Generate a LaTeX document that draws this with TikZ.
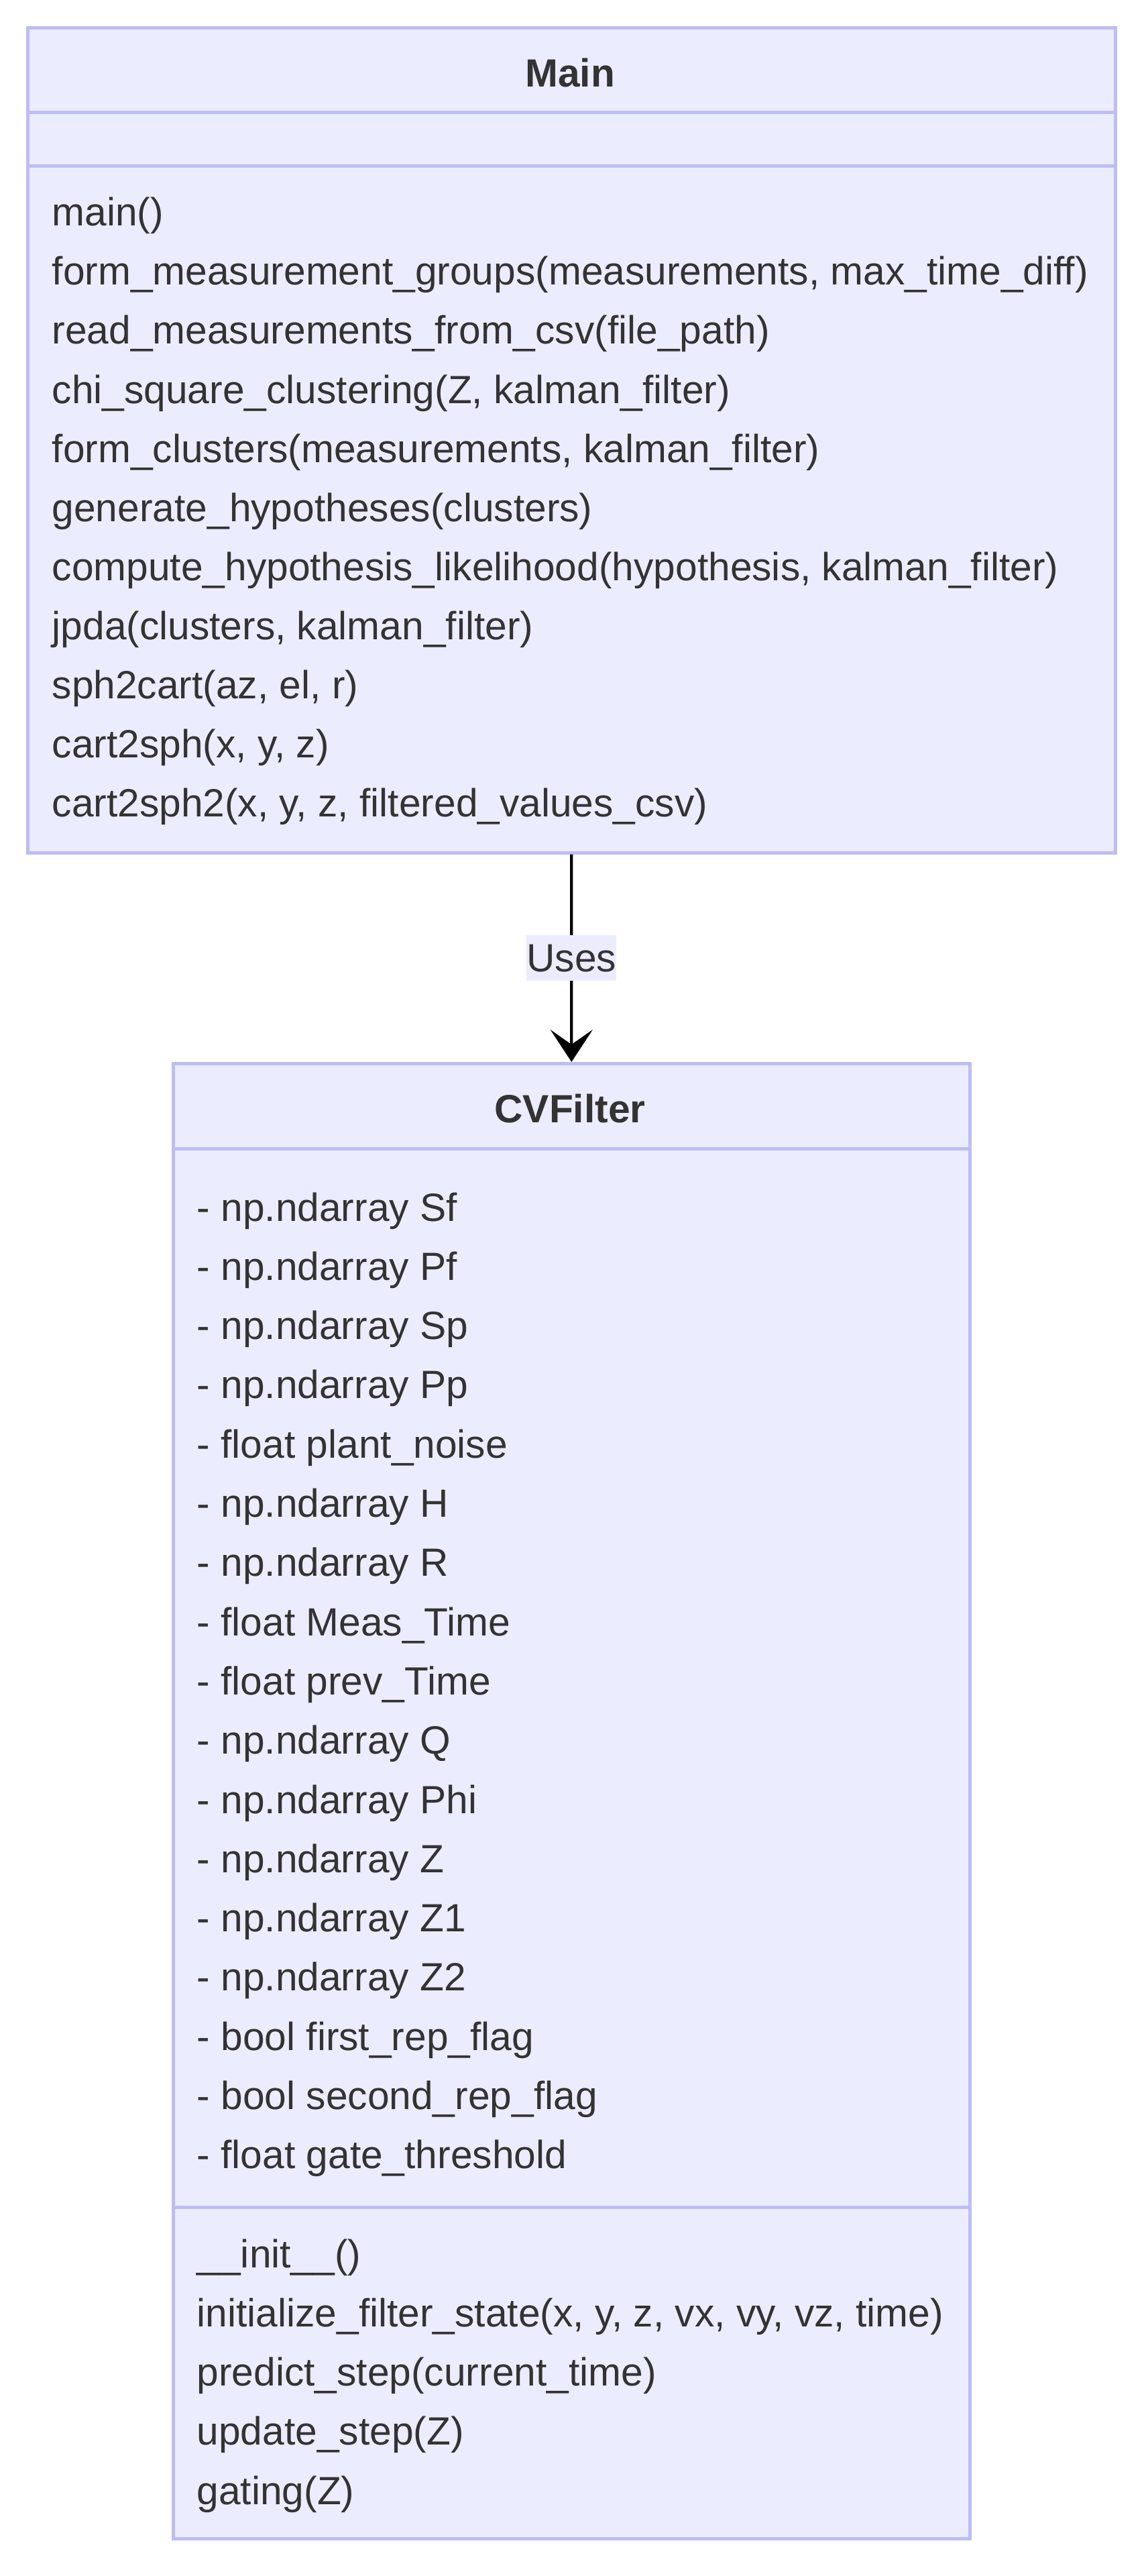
\documentclass[tikz,border=0pt]{standalone}
\usepackage{fontspec}
\setmainfont{Liberation Sans}
\usetikzlibrary{arrows.meta}
\definecolor{boxfill}{HTML}{ECECFF}
\definecolor{boxline}{HTML}{BDBDF6}
\definecolor{txt}{HTML}{333333}
\newcommand{\umlfont}{\fontsize{16.7pt}{20pt}\selectfont}
\tikzset{
  cbox/.style={draw=boxline, fill=boxfill, line width=1.3pt, rectangle, inner sep=0pt, anchor=north west},
  member/.style={anchor=base west, inner sep=0pt, text=txt},
  ctitle/.style={anchor=base, inner sep=0pt, text=txt, font=\umlfont\bfseries},
  uses/.style={line width=1.2pt, -{Stealth[length=4.8mm, width=6.3mm, inset=2.2mm]}},
  lbl/.style={fill=boxfill, text=txt, inner xsep=0pt, inner ysep=0pt, minimum height=0.68cm}
}
\begin{document}
\begin{tikzpicture}[font=\umlfont]
        \useasboundingbox (0,0) rectangle (17.08,-38.40);

        % Clase Main
        \node[cbox, minimum width=16.22cm, minimum height=1.26cm] (main) at (0.39,-0.39) {};
        \node[cbox, minimum width=16.22cm, minimum height=0.80cm] (mainattr) at (0.39,-1.65) {};
        \node[cbox, minimum width=16.22cm, minimum height=10.24cm] (mainops) at (0.39,-2.45) {};
        \node[ctitle] (maintitle) at (8.50,-1.30) {Main};
        \foreach \t [count=\i from 0] in {main(),
            {form\_measurement\_groups(measurements, max\_time\_diff)},
            read\_measurements\_from\_csv(file\_path),
            {chi\_square\_clustering(Z, kalman\_filter)},
            {form\_clusters(measurements, kalman\_filter)},
            generate\_hypotheses(clusters),
            {compute\_hypothesis\_likelihood(hypothesis, kalman\_filter)},
            {jpda(clusters, kalman\_filter)},
            {sph2cart(az, el, r)},
            {cart2sph(x, y, z)},
            {cart2sph2(x, y, z, filtered\_values\_csv)}}
            \node[member] (mop\i) at (0.77,-3.37-0.88*\i) {\t};

        % Clase CVFilter
        \node[cbox, minimum width=11.88cm, minimum height=1.27cm] (cvf) at (2.56,-15.83) {};
        \node[cbox, minimum width=11.88cm, minimum height=15.78cm] (cvfattr) at (2.56,-17.10) {};
        \node[cbox, minimum width=11.88cm, minimum height=4.94cm] (cvfops) at (2.56,-32.88) {};
        \node[ctitle] (cvftitle) at (8.50,-16.73) {CVFilter};
        \foreach \t [count=\i from 0] in {- np.ndarray Sf, - np.ndarray Pf,
            - np.ndarray Sp, - np.ndarray Pp, - float plant\_noise,
            - np.ndarray H, - np.ndarray R, - float Meas\_Time,
            - float prev\_Time, - np.ndarray Q, - np.ndarray Phi,
            - np.ndarray Z, - np.ndarray Z1, - np.ndarray Z2,
            - bool first\_rep\_flag, - bool second\_rep\_flag,
            - float gate\_threshold}
            \node[member] (cat\i) at (2.93,-18.20-0.883*\i) {\t};
        \foreach \t [count=\i from 0] in {\_\_init\_\_(),
            {initialize\_filter\_state(x, y, z, vx, vy, vz, time)},
            predict\_step(current\_time),
            update\_step(Z),
            gating(Z)}
            \node[member] (cop\i) at (2.93,-33.80-0.883*\i) {\t};

        % Relacion
        \draw[uses] (mainops.south) -- (cvf.north) node[midway, lbl] (useslbl) {Uses};
\end{tikzpicture}
\end{document}
